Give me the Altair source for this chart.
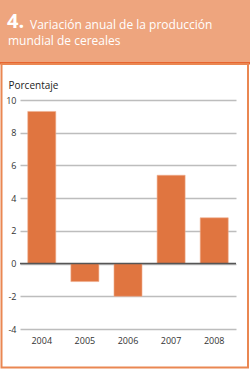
import altair as alt
import pandas as pd

years = ["2004", "2005", "2006", "2007", "2008"]
values = [9.3, -1.1, -2.0, 5.4, 2.8]
y_ticks = [-4, -2, 0, 2, 4, 6, 8, 10]
zero_line = [0]

title_num = "4."
title_line1 = "Variación anual de la producción"
title_line2 = "mundial de cereales"
y_title = "Porcentaje"

FONT = "Open Sans"
BAR = "#E07540"
HEADER = "#EEA57E"
ORANGE = "#E8652F"
BORDER = "#EA8752"

df = pd.DataFrame({"year": years, "value": values})
zdf = pd.DataFrame({"value": zero_line})
one = pd.DataFrame({"k": [0]})

# plot origin is at (20, 100) in page pixels
OX, OY = 20, 100

header = alt.Chart(one).mark_rect(color=HEADER).encode(
    x=alt.value(0 - OX), x2=alt.value(250 - OX),
    y=alt.value(0 - OY), y2=alt.value(62 - OY))
header_line = alt.Chart(one).mark_rect(color=ORANGE).encode(
    x=alt.value(0 - OX), x2=alt.value(250 - OX),
    y=alt.value(62 - OY), y2=alt.value(64.5 - OY))
border = alt.Chart(one).mark_rect(fill=None, stroke=BORDER, strokeWidth=2).encode(
    x=alt.value(1.5 - OX), x2=alt.value(248 - OX),
    y=alt.value(64 - OY), y2=alt.value(367.5 - OY))

t_num = alt.Chart(one).mark_text(text=title_num, font=FONT, fontSize=20, fontWeight="bold",
                                 color="white", align="left", baseline="alphabetic").encode(
    x=alt.value(7 - OX), y=alt.value(28 - OY))
t_l1 = alt.Chart(one).mark_text(text=title_line1, font=FONT, fontSize=12, color="white",
                                align="left", baseline="alphabetic").encode(
    x=alt.value(30 - OX), y=alt.value(28.5 - OY))
t_l2 = alt.Chart(one).mark_text(text=title_line2, font=FONT, fontSize=12, color="white",
                                align="left", baseline="alphabetic").encode(
    x=alt.value(8 - OX), y=alt.value(45 - OY))

yscale = alt.Scale(domain=[-4, 10], nice=False)
yaxis = alt.Axis(values=y_ticks, title=y_title, titleAngle=0, titleAlign="left",
                 titleBaseline="alphabetic", titleX=-12, titleY=-12,
                 titleFontSize=10, titleFontWeight="normal", titleFont=FONT,
                 titleColor="#222222", domain=False, ticks=False,
                 labelOverlap=False, labelExpr="'' + datum.value",
                 labelPadding=4, labelFontSize=9, labelFont=FONT,
                 labelColor="#333333", grid=True, gridColor="#BDBDBD",
                 gridWidth=1.5)

bars = alt.Chart(df).mark_bar(color=BAR, stroke="#F0B090", strokeWidth=0.6).encode(
    x=alt.X("year:N", sort=years,
            scale=alt.Scale(paddingInner=0.35, paddingOuter=0.18),
            axis=alt.Axis(title=None, labelAngle=0, domain=False, ticks=False,
                          labelPadding=7, labelFontSize=9, labelFont=FONT,
                          labelColor="#333333")),
    y=alt.Y("value:Q", scale=yscale, axis=yaxis),
)

zero = alt.Chart(zdf).mark_rule(color="#555555", strokeWidth=1.5).encode(
    y=alt.Y("value:Q", scale=yscale, axis=yaxis))

chart = alt.layer(header, header_line, border, t_num, t_l1, t_l2, bars, zero).properties(
    width=216, height=229,
    padding={"left": OX, "top": OY, "right": 14, "bottom": 40},
    autosize=alt.AutoSizeParams(type="none"),
    background="white",
).configure_view(stroke=None)

chart.save("out.html", embed_options={"renderer": "svg", "actions": False})
